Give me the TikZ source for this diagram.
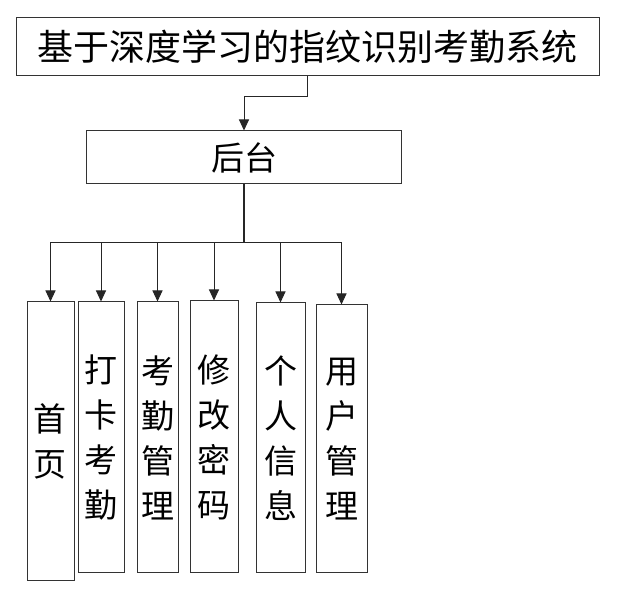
\documentclass[tikz,border=0pt]{standalone}
\usepackage{fontspec}
\newfontfamily\cjk{Noto Sans CJK SC}
\usetikzlibrary{arrows.meta}
\begin{document}
\begin{tikzpicture}[x=1pt,y=-1pt,
  box/.style={draw=black!80,line width=1pt,inner sep=0pt,align=center},
  arr/.style={draw=black!85,line width=1pt,-{Triangle[width=10pt,length=11pt]}},
  ln/.style={draw=black!85,line width=1.2pt},
  vt/.style={box,font=\cjk\fontsize{33}{45}\selectfont}]
\useasboundingbox (0,0) rectangle (630,601);
\node[box,minimum width=583pt,minimum height=58pt,font=\cjk\fontsize{36}{40}\selectfont] (title) at (307.5,47) {基于深度学习的指纹识别考勤系统};
\node[box,minimum width=315pt,minimum height=53pt,font=\cjk\fontsize{33}{36}\selectfont] (back) at (244,157.5) {后台};
\node[vt,minimum width=47pt,minimum height=279pt] (b1) at (50.5,441.5) {首\\页};
\node[vt,minimum width=46pt,minimum height=271pt] (b2) at (101,437.5) {打\\卡\\考\\勤};
\node[vt,minimum width=41pt,minimum height=271pt] (b3) at (157.5,437.5) {考\\勤\\管\\理};
\node[vt,minimum width=48pt,minimum height=272pt] (b4) at (214,437) {修\\改\\密\\码};
\node[vt,minimum width=49pt,minimum height=270pt] (b5) at (280.5,438) {个\\人\\信\\息};
\node[vt,minimum width=51pt,minimum height=268pt] (b6) at (341.5,439) {用\\户\\管\\理};
\coordinate (k1) at (244,97);
\coordinate (bus) at (244,243);
\draw[arr] (title.south) |- (k1) -- (back.north);
\draw[ln] (back.south) -- (bus);
\foreach \b in {b1,b2,b3,b4,b5,b6} {
  \draw[arr] (bus) -| (\b.north);
}
\end{tikzpicture}
\end{document}
